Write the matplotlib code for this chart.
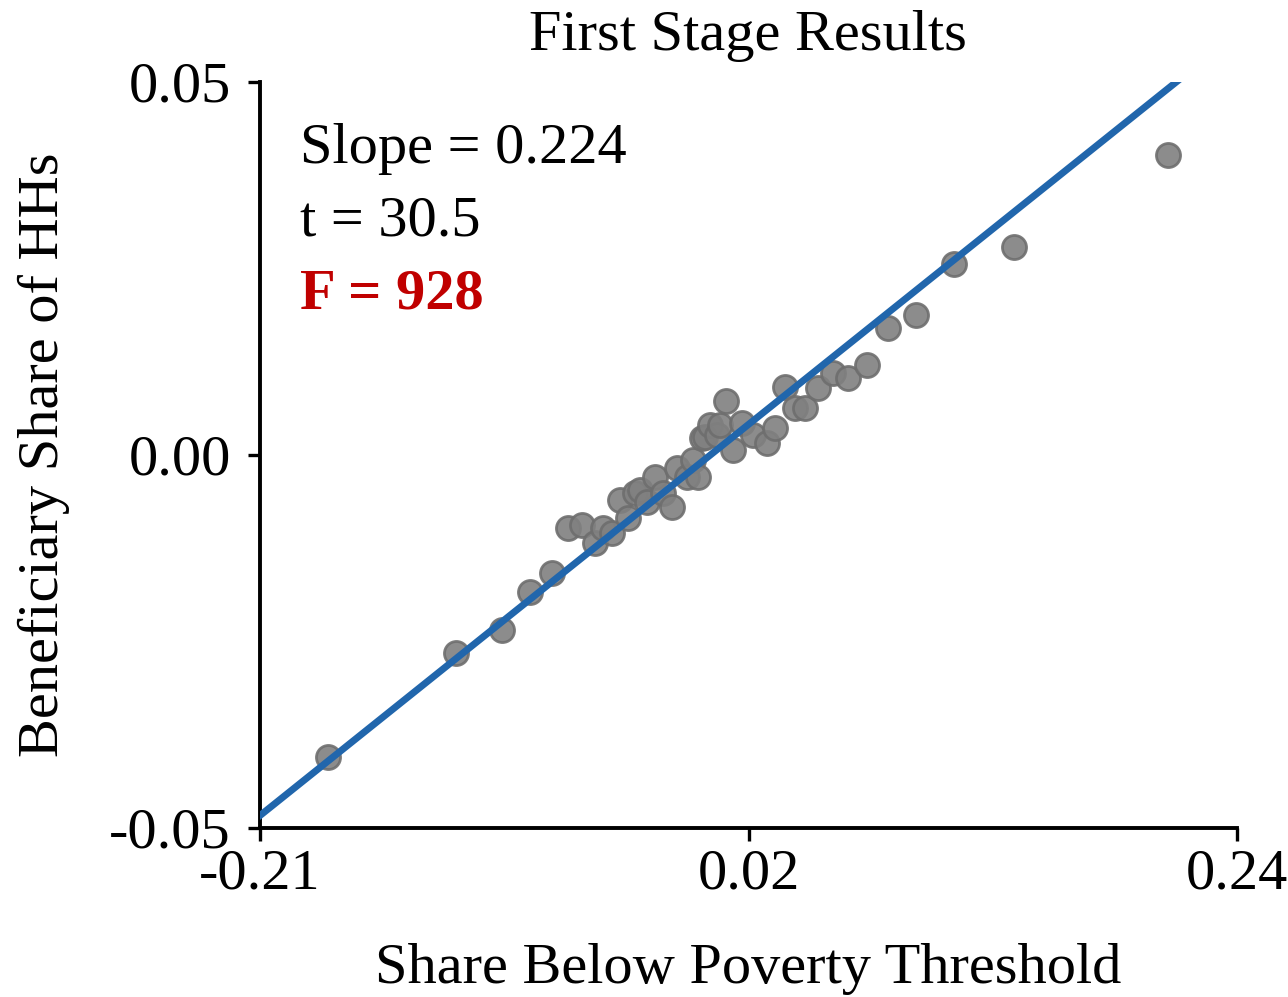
import matplotlib
matplotlib.use("Agg")
import matplotlib.pyplot as plt
import numpy as np

# binned scatter: share below poverty threshold vs beneficiary share of HHs
POVERTY_SHARE = [
    -0.1787, -0.1197, -0.0985, -0.0856, -0.0755, -0.0681, -0.0617, -0.0557,
    -0.0520, -0.0479, -0.0442, -0.0405, -0.0373, -0.0350, -0.0317, -0.0281,
    -0.0244, -0.0202, -0.0179, -0.0133, -0.0106, -0.0083, -0.0064, -0.0050,
    -0.0027, 0.0005, 0.0019, 0.0046, 0.0079, 0.0120, 0.0171, 0.0235,
    0.0272, 0.0318, 0.0364, 0.0410, 0.0470, 0.0539, 0.0608, 0.0696,
    0.0793, 0.0922, 0.1097, 0.1373, 0.2082,
]
BENEFICIARY_SHARE = [
    -0.0405, -0.0265, -0.0235, -0.0184, -0.0158, -0.0098, -0.0094, -0.0118,
    -0.0098, -0.0105, -0.0060, -0.0084, -0.0051, -0.0047, -0.0063, -0.0029,
    -0.0051, -0.0070, -0.0017, -0.0029, -0.0007, -0.0029, 0.0023, 0.0024,
    0.0040, 0.0027, 0.0040, 0.0072, 0.0007, 0.0043, 0.0027, 0.0016,
    0.0036, 0.0091, 0.0063, 0.0063, 0.0090, 0.0110, 0.0103, 0.0121,
    0.0170, 0.0188, 0.0256, 0.0279, 0.0402,
]

FIT_INTERCEPT = 0.0006
FIT_SLOPE = 0.233

XLIM = (-0.21, 0.24)
YLIM = (-0.05, 0.05)
XTICKS = [-0.21, 0.015, 0.24]
XTICKLABELS = ["-0.21", "0.02", "0.24"]
YTICKS = [-0.05, 0.0, 0.05]
YTICKLABELS = ["-0.05", "0.00", "0.05"]

STATS = ["Slope = 0.224", "t = 30.5", "F = 928"]

plt.rcParams["font.family"] = ["Liberation Serif", "DejaVu Serif"]
FS = 42

fig = plt.figure(figsize=(12.88, 9.97), dpi=100)
ax = fig.add_axes([260 / 1288, 1 - 828 / 997, 977 / 1288, 746 / 997])

ax.scatter(POVERTY_SHARE, BENEFICIARY_SHARE, s=300, color="#808080",
           edgecolor="#6e6e6e", linewidth=2, alpha=0.9, zorder=2)

xs = np.array(XLIM)
ax.plot(xs, FIT_INTERCEPT + FIT_SLOPE * xs, color="#2166ac", lw=5, zorder=3)

ax.set_xlim(XLIM)
ax.set_ylim(YLIM)
ax.set_xticks(XTICKS)
ax.set_xticklabels(XTICKLABELS)
ax.set_yticks(YTICKS)
ax.set_yticklabels(YTICKLABELS)
ax.tick_params(labelsize=FS, length=9, width=2.4)
ax.tick_params(axis="y", pad=12)
ax.tick_params(axis="x", pad=6)

for side in ["top", "right"]:
    ax.spines[side].set_visible(False)
for side in ["left", "bottom"]:
    ax.spines[side].set_linewidth(2.8)

ax.set_xlabel("Share Below Poverty Threshold", fontsize=FS, labelpad=30)
ax.set_ylabel("Beneficiary Share of HHs", fontsize=FS, labelpad=28)
# title sits close to the top edge, placed directly
fig.text(748 / 1288, 1 - 50 / 997, "First Stage Results", fontsize=FS,
         ha="center", va="baseline")

ax.text(0.041, 0.891, STATS[0], transform=ax.transAxes, fontsize=FS, va="baseline")
ax.text(0.041, 0.794, STATS[1], transform=ax.transAxes, fontsize=FS, va="baseline")
ax.text(0.041, 0.697, STATS[2], transform=ax.transAxes, fontsize=FS, va="baseline",
        color="#c00000", fontweight="bold")

fig.savefig("out.png", dpi=100)
